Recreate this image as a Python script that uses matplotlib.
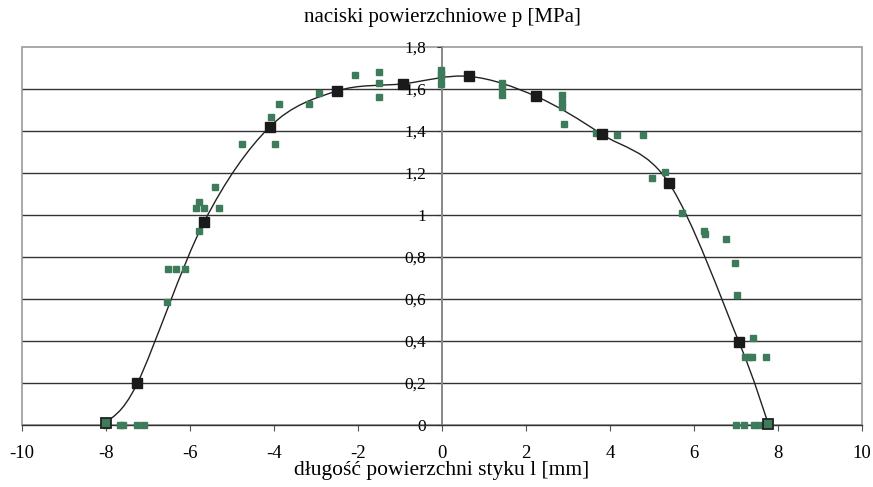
import matplotlib
matplotlib.use("Agg")
import matplotlib.pyplot as plt
import numpy as np
from matplotlib.path import Path
from matplotlib.patches import PathPatch, Rectangle
from matplotlib.ticker import FuncFormatter

# fitted (black) series: contact length l [mm] vs pressure p [MPa]
fit_l = [-8.0, -7.25, -5.67, -4.10, -2.51, -0.92, 0.65, 2.24, 3.80, 5.41, 7.07, 7.77]
fit_p = [0.01, 0.20, 0.965, 1.42, 1.59, 1.625, 1.66, 1.565, 1.385, 1.15, 0.395, 0.005]

# measured (green) points
meas_l = [-8.0, -7.67, -7.59, -7.27, -7.10,
          -6.54, -6.52, -6.33, -6.11, -5.79,
          -5.86, -5.79, -5.67, -5.32, -5.40,
          -4.75, -3.98, -4.06, -3.87, -3.16,
          -2.94, -2.07, -1.50, -1.50, -1.50,
          -0.02, -0.02, -0.02, -0.02,
          1.42, 1.42, 1.42,
          2.86, 2.86, 2.86, 2.90,
          3.66, 4.16, 4.78, 4.99, 5.31,
          5.72, 6.24, 6.27, 6.76, 6.98,
          7.02, 7.41, 7.21, 7.30, 7.38, 7.71,
          6.99, 7.18, 7.44, 7.55, 7.77]
meas_p = [0.0, 0.0, 0.0, 0.0, 0.0,
          0.584, 0.743, 0.743, 0.743, 0.923,
          1.031, 1.061, 1.031, 1.031, 1.132,
          1.336, 1.336, 1.465, 1.528, 1.528,
          1.583, 1.666, 1.679, 1.628, 1.564,
          1.69, 1.67, 1.655, 1.623,
          1.628, 1.607, 1.571,
          1.571, 1.536, 1.515, 1.433,
          1.392, 1.382, 1.382, 1.175, 1.207,
          1.010, 0.922, 0.911, 0.887, 0.771,
          0.621, 0.412, 0.322, 0.322, 0.322, 0.322,
          0.0, 0.0, 0.0, 0.0, 0.0]

x_ticks = [-10, -8, -6, -4, -2, 0, 2, 4, 6, 8, 10]
y_ticks = [0, 0.2, 0.4, 0.6, 0.8, 1.0, 1.2, 1.4, 1.6, 1.8]

GREEN = "#3d7b5b"
SERIF = ["Liberation Serif", "DejaVu Serif"]

plt.rcParams["axes.unicode_minus"] = False
plt.rcParams["font.family"] = SERIF


def smooth_path(xs, ys, t=1 / 6):
    """Excel-like smoothed line: cubic Bezier through the points."""
    pts = np.column_stack([xs, ys])
    verts = [pts[0]]
    codes = [Path.MOVETO]
    n = len(pts)
    for i in range(n - 1):
        p0 = pts[i - 1] if i > 0 else pts[i]
        p1, p2 = pts[i], pts[i + 1]
        p3 = pts[i + 2] if i + 2 < n else pts[i + 1]
        verts += [p1 + (p2 - p0) * t, p2 - (p3 - p1) * t, p2]
        codes += [Path.CURVE4] * 3
    return Path(verts, codes)


def fmt_comma(v, _):
    if abs(v) < 1e-9:
        return "0"
    if abs(v - round(v)) < 1e-9:
        return "%d" % round(v)
    return ("%.1f" % v).replace(".", ",")


fig = plt.figure(figsize=(8.73, 4.87), dpi=100)
ax = fig.add_axes([0.0252, 0.1273, 0.9622, 0.7762])
ax.set_xlim(-10, 10)
ax.set_ylim(0, 1.8)

for y in y_ticks[1:-1]:
    ax.axhline(y, color="#333333", lw=1.0, zorder=1)

ax.add_patch(Rectangle((0, 0), 1, 1, transform=ax.transAxes, fill=False,
                       edgecolor="#999999", lw=1.2, zorder=1, clip_on=False))

for side in ("top", "right"):
    ax.spines[side].set_visible(False)
ax.spines["left"].set_position(("data", 0))
ax.spines["left"].set_color("#888888")
ax.spines["left"].set_linewidth(1.4)
ax.spines["bottom"].set_color("#333333")
ax.spines["bottom"].set_linewidth(1.0)

ax.add_patch(PathPatch(smooth_path(fit_l, fit_p), facecolor="none",
                       edgecolor="#222222", lw=1.0, zorder=3))

ax.plot(meas_l, meas_p, ls="none", marker="s", ms=4.4, color=GREEN,
        mec=GREEN, zorder=4, clip_on=False)
ax.plot(fit_l[1:-1], fit_p[1:-1], ls="none", marker="s", ms=6.8,
        color="#1a1a1a", mec="#1a1a1a", zorder=5, clip_on=False)
ax.plot([fit_l[0], fit_l[-1]], [fit_p[0], fit_p[-1]], ls="none", marker="s",
        ms=6.8, color=GREEN, mec="#222222", mew=1.3, zorder=5, clip_on=False)

ax.set_xticks(x_ticks)
ax.set_yticks(y_ticks)
ax.yaxis.set_major_formatter(FuncFormatter(fmt_comma))
ax.tick_params(axis="x", direction="out", length=4.5, width=0.8,
               color="#555555", labelsize=13.5, pad=10)
ax.tick_params(axis="y", direction="out", length=3.5, width=0.8,
               color="#333333", labelsize=12.5, pad=8)
for lbl in ax.get_yticklabels():
    lbl.set_zorder(6)

ax.set_title("naciski powierzchniowe p [MPa]", fontsize=15, pad=18)
ax.set_xlabel("długość powierzchni styku l [mm]", fontsize=15.5, labelpad=-1)

fig.savefig("out.png", dpi=100)
